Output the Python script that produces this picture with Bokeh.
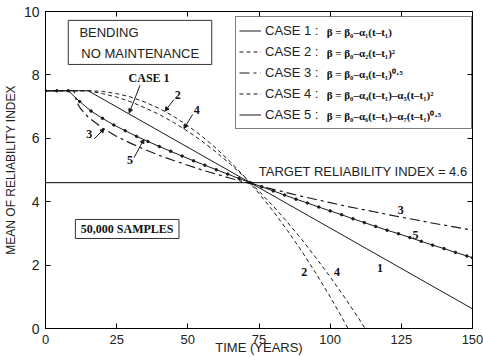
from bokeh.plotting import figure
from bokeh.models import (Range1d, LinearAxis, FixedTicker, Span, Label, BoxAnnotation,
                          Legend, LegendItem, Arrow, NormalHead)
from bokeh.embed import file_html
from bokeh.resources import INLINE

SANS = "Liberation Sans"
SERIF = "Liberation Serif"

# ---- data: mean reliability index vs time, bending, no maintenance ----
x_ticks = [0, 25, 50, 75, 100, 125, 150]
y_ticks = [0, 2, 4, 6, 8, 10]
target_beta = 4.6

# Case 1: linear
years_c1 = [0, 15, 150]
beta_c1 = [7.5, 7.5, 0.62]

# Case 2: quadratic
years_c2 = [0, 5, 10, 15, 20, 25, 30, 35, 40, 45, 50, 55, 60, 65, 70, 75, 80,
            85, 90, 95, 100, 105, 110]
beta_c2 = [7.5, 7.5, 7.5, 7.5, 7.48, 7.41, 7.30, 7.14, 6.94, 6.69, 6.40, 6.06,
           5.68, 5.25, 4.78, 4.26, 3.70, 3.09, 2.44, 1.74, 1.00, 0.21, -0.62]

# Case 3: square root
years_c3 = [0, 5, 10, 11, 12.5, 15, 20, 25, 30, 35, 40, 45, 50, 55, 60, 65, 70,
            75, 80, 85, 90, 95, 100, 105, 110, 115, 120, 125, 130, 135, 140, 145, 150]
beta_c3 = [7.5, 7.5, 7.5, 7.13, 6.91, 6.67, 6.32, 6.06, 5.84, 5.64, 5.46, 5.30,
           5.15, 5.00, 4.87, 4.74, 4.62, 4.50, 4.39, 4.28, 4.17, 4.07, 3.97, 3.87,
           3.78, 3.69, 3.60, 3.51, 3.43, 3.34, 3.26, 3.18, 3.10]

# Case 4: linear + quadratic
years_c4 = [0, 5, 10, 15, 20, 25, 30, 35, 40, 45, 50, 55, 60, 65, 70, 75, 80,
            85, 90, 95, 100, 105, 110, 115]
beta_c4 = [7.5, 7.5, 7.5, 7.5, 7.41, 7.30, 7.15, 6.96, 6.75, 6.50, 6.22, 5.91,
           5.56, 5.18, 4.77, 4.33, 3.86, 3.35, 2.81, 2.23, 1.63, 0.99, 0.32, -0.38]

# Case 5: linear + square root
years_c5 = [0, 4, 8, 12, 16, 20, 24, 28, 32, 36, 40, 44, 48, 52, 56, 60, 64, 68,
            72, 76, 80, 84, 88, 92, 96, 100, 104, 108, 112, 116, 120, 124, 128,
            132, 136, 140, 144, 148, 150]
beta_c5 = [7.5, 7.5, 7.5, 7.16, 6.86, 6.63, 6.42, 6.24, 6.06, 5.90, 5.74, 5.59,
           5.44, 5.29, 5.15, 5.01, 4.87, 4.73, 4.60, 4.47, 4.34, 4.21, 4.08, 3.96,
           3.83, 3.71, 3.59, 3.46, 3.34, 3.22, 3.10, 2.99, 2.87, 2.75, 2.63, 2.52,
           2.40, 2.29, 2.23]

case_names = ["CASE 1 :", "CASE 2 :", "CASE 3 :", "CASE 4 :", "CASE 5 :"]
case_formulas = [
    "β = β₀–α₁(t–t₁)",
    "β = β₀–α₂(t–t₁)²",
    "β = β₀–α₃(t–t₁)⁰·⁵",
    "β = β₀–α₄(t–t₁)–α₅(t–t₁)²",
    "β = β₀–α₆(t–t₁)–α₇(t–t₁)⁰·⁵",
]

# ---- figure ----
p = figure(width=483, height=357, output_backend="svg", toolbar_location=None,
           x_range=Range1d(0, 150), y_range=Range1d(0, 10),
           min_border_left=43, min_border_right=11, min_border_top=11,
           min_border_bottom=29,
           x_axis_label="TIME (YEARS)", y_axis_label="MEAN OF RELIABILITY INDEX")
p.background_fill_color = "white"
p.border_fill_color = "white"
p.grid.visible = False
p.outline_line_color = "black"
p.outline_line_width = 1


def style_axis(ax, ticks, show_labels=True):
    ax.ticker = FixedTicker(ticks=ticks)
    ax.major_tick_in = 5
    ax.major_tick_out = 0
    ax.minor_tick_line_color = None
    ax.axis_line_color = "black"
    ax.major_tick_line_color = "black"
    if show_labels:
        ax.major_label_text_font = SANS
        ax.major_label_text_font_size = "14px"
        ax.major_label_text_color = "#222222"
        ax.axis_label_text_font = SANS
        ax.axis_label_text_font_style = "normal"
        ax.axis_label_text_color = "#222222"
    else:
        # tick marks only on the mirrored sides
        ax.major_label_text_color = None
        ax.major_label_text_font_size = "1px"
        ax.major_label_standoff = 0


style_axis(p.xaxis[0], x_ticks)
p.xaxis[0].major_label_text_font_size = "13px"
p.xaxis[0].major_label_standoff = 6
p.xaxis[0].axis_label_text_font_size = "13px"
p.xaxis[0].axis_label_standoff = -7

style_axis(p.yaxis[0], y_ticks)
p.yaxis[0].major_label_standoff = 6
p.yaxis[0].axis_label_text_font_size = "12px"
p.yaxis[0].axis_label_standoff = 3

top_axis = LinearAxis()
style_axis(top_axis, x_ticks, show_labels=False)
p.add_layout(top_axis, "above")
right_axis = LinearAxis()
style_axis(right_axis, y_ticks, show_labels=False)
p.add_layout(right_axis, "right")

# target reliability level
p.add_layout(Span(location=target_beta, dimension="width", line_color="black",
                  line_width=1))
p.add_layout(Label(x=148.3, y=4.95, text="TARGET RELIABILITY INDEX = %.1f" % target_beta,
                   text_font=SANS, text_font_size="13px", text_color="#222222",
                   text_align="right", text_baseline="middle"))

# curves
ink = "#1a1a1a"
r1 = p.line(years_c1, beta_c1, line_color=ink, line_width=1)
r2 = p.line(years_c2, beta_c2, line_color=ink, line_width=1, line_dash="4 3")
r3 = p.line(years_c3, beta_c3, line_color=ink, line_width=1.2, line_dash="10 4 3 4")
r4 = p.line(years_c4, beta_c4, line_color=ink, line_width=1, line_dash="4 3")
r5 = p.line(years_c5, beta_c5, line_color=ink, line_width=1)
r5m = p.scatter(years_c5, beta_c5, marker="circle", size=2.5, color=ink)

# legend (case names); formulas are written beside it
legend = Legend(items=[
    LegendItem(label=case_names[0], renderers=[r1]),
    LegendItem(label=case_names[1], renderers=[r2]),
    LegendItem(label=case_names[2], renderers=[r3]),
    LegendItem(label=case_names[3], renderers=[r4]),
    LegendItem(label=case_names[4], renderers=[r5]),
], location=(190, 199), margin=0, padding=3, spacing=0,
    glyph_width=22, glyph_height=21, label_height=21, label_width=203,
    label_standoff=4, label_text_font=SANS, label_text_font_size="13px",
    label_text_color="#222222", border_line_color="black", border_line_width=1,
    background_fill_color="white", background_fill_alpha=0.0, level="annotation")
p.add_layout(legend)

row_betas = [9.35, 8.69, 8.03, 7.37, 6.70]
for formula, yb in zip(case_formulas, row_betas):
    p.add_layout(Label(x=98.8, y=yb, text=formula, text_font=SERIF,
                       text_font_style="bold", text_font_size="11px",
                       text_color="#111111", text_baseline="middle",
                       level="overlay"))

# info boxes
p.add_layout(BoxAnnotation(left=8.0, right=58.4, bottom=8.33, top=9.72,
                           fill_color="white", fill_alpha=1.0,
                           line_color="#333333", line_alpha=1.0, line_width=1))
p.add_layout(Label(x=11.9, y=9.34, text="BENDING", text_font=SANS,
                   text_font_size="13px", text_color="#222222", text_baseline="middle",
                   level="overlay"))
p.add_layout(Label(x=12.6, y=8.68, text="NO MAINTENANCE", text_font=SANS,
                   text_font_size="13px", text_color="#222222", text_baseline="middle",
                   level="overlay"))

p.add_layout(BoxAnnotation(left=10.5, right=46.9, bottom=2.84, top=3.44,
                           fill_color="white", fill_alpha=1.0,
                           line_color="#333333", line_alpha=1.0, line_width=1))
p.add_layout(Label(x=28.7, y=3.14, text="50,000 SAMPLES", text_font=SERIF,
                   text_font_style="bold", text_font_size="12px", text_color="#111111",
                   text_align="center", text_baseline="middle", level="overlay"))

# curve labels
curve_labels = [
    ("CASE 1", 36.4, 7.89), ("2", 46.5, 7.38), ("4", 53.1, 6.88),
    ("3", 15.4, 6.15), ("5", 29.7, 5.30),
    ("3", 124.8, 3.75), ("5", 130.0, 2.96), ("1", 117.5, 1.92),
    ("2", 90.9, 1.77), ("4", 102.4, 1.77),
]
for txt, lx, ly in curve_labels:
    p.add_layout(Label(x=lx, y=ly, text=txt, text_font=SERIF, text_font_style="bold",
                       text_font_size="12px", text_color="#111111",
                       text_align="center", text_baseline="middle"))

# leader arrows from labels to curves
leaders = [
    (33.2, 7.67, 29.4, 6.80),
    (45.1, 7.22, 42.0, 6.86),
    (51.7, 6.75, 48.6, 6.31),
    (17.1, 5.98, 20.6, 6.30),
    (31.1, 5.39, 34.6, 5.97),
]
for xs, ys, xe, ye in leaders:
    p.add_layout(Arrow(x_start=xs, y_start=ys, x_end=xe, y_end=ye,
                       line_color=ink, line_width=1,
                       end=NormalHead(size=4, fill_color=ink, line_color=ink)))

open("out.html", "w").write(file_html(p, INLINE))
